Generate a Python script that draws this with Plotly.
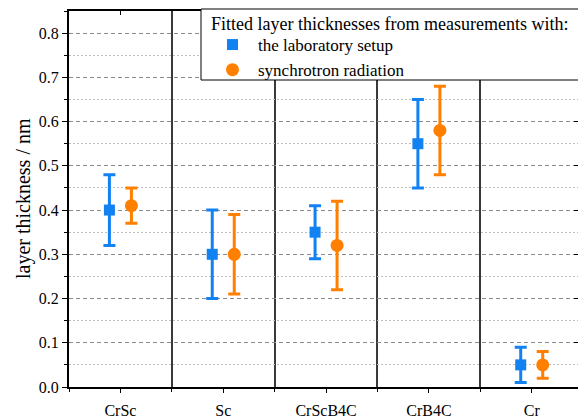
import plotly.graph_objects as go

categories = ["CrSc", "Sc", "CrScB4C", "CrB4C", "Cr"]
lab_value = [0.40, 0.30, 0.35, 0.55, 0.05]
lab_lower = [0.32, 0.20, 0.29, 0.45, 0.01]
lab_upper = [0.48, 0.40, 0.41, 0.65, 0.09]
syn_value = [0.41, 0.30, 0.32, 0.58, 0.05]
syn_lower = [0.37, 0.21, 0.22, 0.48, 0.02]
syn_upper = [0.45, 0.39, 0.42, 0.68, 0.08]
y_ticks = [0.0, 0.1, 0.2, 0.3, 0.4, 0.5, 0.6, 0.7, 0.8]

BLUE = "#1282F2"
ORANGE = "#FF8000"
FONT = "Liberation Serif"
off = 0.107
idx = list(range(len(categories)))

# plot area in pixels (for converting layout positions)
L, R, T, B = 69, 578, 11, 387
PW, PH = R - L, B - T


def px_x(p):
    return (p - L) / PW


def px_y(p):
    return (B - p) / PH


fig = go.Figure()
fig.add_trace(go.Scatter(
    x=[i - off for i in idx], y=lab_value, mode="markers",
    name="the laboratory setup",
    marker=dict(symbol="square", size=11, color=BLUE),
    error_y=dict(type="data", symmetric=False,
                 array=[u - v for u, v in zip(lab_upper, lab_value)],
                 arrayminus=[v - l for v, l in zip(lab_value, lab_lower)],
                 color=BLUE, thickness=3, width=6),
))
fig.add_trace(go.Scatter(
    x=[i + off for i in idx], y=syn_value, mode="markers",
    name="synchrotron radiation",
    marker=dict(symbol="circle", size=13, color=ORANGE),
    error_y=dict(type="data", symmetric=False,
                 array=[u - v for u, v in zip(syn_upper, syn_value)],
                 arrayminus=[v - l for v, l in zip(syn_value, syn_lower)],
                 color=ORANGE, thickness=3, width=6),
))
# invisible helper trace for overlay axes (top/right inward ticks)
fig.add_trace(go.Scatter(x=[None], y=[None], xaxis="x2", yaxis="y2",
                         showlegend=False, hoverinfo="skip"))

xr = [-0.5, 4.45]
yr = [0, 0.85]
fig.update_layout(
    width=578, height=418,
    margin=dict(l=L, r=578 - R, t=T, b=418 - B, autoexpand=False),
    paper_bgcolor="white", plot_bgcolor="white",
    font=dict(family=FONT, size=16, color="black"),
    showlegend=True,
    legend=dict(
        font=dict(size=17, family=FONT),
        x=px_x(207), y=px_y(27), xanchor="left", yanchor="top",
        bgcolor="rgba(0,0,0,0)", borderwidth=0,
        itemwidth=41, tracegroupgap=0,
    ),
    xaxis=dict(
        range=xr, tickmode="array", tickvals=idx, ticktext=categories,
        ticks="outside", ticklen=4, tickwidth=1, tickcolor="black",
        showline=True, linecolor="black", linewidth=2, mirror=True,
        showgrid=False, zeroline=False, automargin=False,
        ticklabelstandoff=4,
        tickfont=dict(size=16, family=FONT),
        minor=dict(tickmode="array", tickvals=[-0.5, 0.5, 1.5, 2.5, 3.5],
                   ticks="outside", ticklen=3, tickcolor="black",
                   showgrid=True, gridcolor="#3a3a3a", gridwidth=1.5),
    ),
    yaxis=dict(
        range=yr, tickmode="array", tickvals=y_ticks,
        ticktext=[f"{v:.1f}" for v in y_ticks],
        ticks="outside", ticklen=5, tickwidth=1, tickcolor="black",
        showline=True, linecolor="black", linewidth=2,
        showgrid=True, gridcolor="#8a8a8a", gridwidth=1, griddash="4px,3px",
        zeroline=False, automargin=False,
        tickfont=dict(size=16, family=FONT),
        minor=dict(dtick=0.1, tick0=0.05, ticks="outside", ticklen=3,
                   tickcolor="black", showgrid=True, gridcolor="#bdbdbd",
                   gridwidth=1, griddash="2px,2px"),
    ),
    xaxis2=dict(
        range=xr, overlaying="x", side="top", tickmode="array", tickvals=idx,
        ticks="inside", ticklen=4, tickcolor="black", showticklabels=False,
        showline=False, showgrid=False, zeroline=False, automargin=False,
    ),
    yaxis2=dict(
        range=yr, overlaying="y", side="right", anchor="x2", tickmode="array",
        tickvals=y_ticks, ticks="inside", ticklen=4, tickcolor="black",
        showticklabels=False, showline=False, showgrid=False, zeroline=False,
        automargin=False,
    ),
    shapes=[dict(
        type="rect", xref="paper", yref="paper",
        x0=px_x(201), x1=px_x(600), y0=px_y(80), y1=px_y(9),
        line=dict(color="black", width=1), fillcolor="white", layer="above",
    )],
    annotations=[
        dict(text="layer thickness / nm", textangle=-90, showarrow=False,
             xref="paper", yref="paper", x=px_x(23), y=0.5,
             xanchor="center", yanchor="middle",
             font=dict(size=20, family=FONT, color="black")),
        dict(text="Fitted layer thicknesses from measurements with:",
             showarrow=False, xref="paper", yref="paper",
             x=px_x(209), y=px_y(24), xanchor="left", yanchor="middle",
             font=dict(size=18, family=FONT, color="black")),
    ],
)

fig.write_html("out.html")
